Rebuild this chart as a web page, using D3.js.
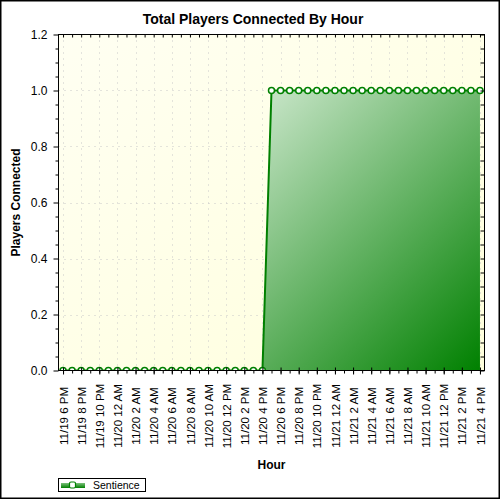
<!DOCTYPE html>
<html>
<head>
<meta charset="utf-8">
<script src="https://cdn.jsdelivr.net/npm/d3@7"></script>
<style>
  html, body { margin: 0; padding: 0; background: #fff; }
  svg { display: block; font-family: Arial, "Liberation Sans", sans-serif; }
</style>
</head>
<body>
<svg id="chart" width="500" height="500"></svg>
<script>
// ---- data ----
const hours = [
  "11/19 18:00","11/19 19:00","11/19 20:00","11/19 21:00","11/19 22:00","11/19 23:00",
  "11/20 00:00","11/20 01:00","11/20 02:00","11/20 03:00","11/20 04:00","11/20 05:00",
  "11/20 06:00","11/20 07:00","11/20 08:00","11/20 09:00","11/20 10:00","11/20 11:00",
  "11/20 12:00","11/20 13:00","11/20 14:00","11/20 15:00","11/20 16:00","11/20 17:00",
  "11/20 18:00","11/20 19:00","11/20 20:00","11/20 21:00","11/20 22:00","11/20 23:00",
  "11/21 00:00","11/21 01:00","11/21 02:00","11/21 03:00","11/21 04:00","11/21 05:00",
  "11/21 06:00","11/21 07:00","11/21 08:00","11/21 09:00","11/21 10:00","11/21 11:00",
  "11/21 12:00","11/21 13:00","11/21 14:00","11/21 15:00","11/21 16:00"
];
const sentience = [
  0,0,0,0,0,0,
  0,0,0,0,0,0,
  0,0,0,0,0,0,
  0,0,0,0,0,1,
  1,1,1,1,1,1,
  1,1,1,1,1,1,
  1,1,1,1,1,1,
  1,1,1,1,1
];
const tickTimes = [
  "11/19 18:00","11/19 20:00","11/19 22:00","11/20 00:00","11/20 02:00","11/20 04:00",
  "11/20 06:00","11/20 08:00","11/20 10:00","11/20 12:00","11/20 14:00","11/20 16:00",
  "11/20 18:00","11/20 20:00","11/20 22:00","11/21 00:00","11/21 02:00","11/21 04:00",
  "11/21 06:00","11/21 08:00","11/21 10:00","11/21 12:00","11/21 14:00","11/21 16:00"
];
const tickLabels = [
  "11/19 6 PM","11/19 8 PM","11/19 10 PM","11/20 12 AM","11/20 2 AM","11/20 4 AM",
  "11/20 6 AM","11/20 8 AM","11/20 10 AM","11/20 12 PM","11/20 2 PM","11/20 4 PM",
  "11/20 6 PM","11/20 8 PM","11/20 10 PM","11/21 12 AM","11/21 2 AM","11/21 4 AM",
  "11/21 6 AM","11/21 8 AM","11/21 10 AM","11/21 12 PM","11/21 2 PM","11/21 4 PM"
];
const yMajor = [0, 0.2, 0.4, 0.6, 0.8, 1.0, 1.2];
const yMinor = [0.05,0.1,0.15,0.25,0.3,0.35,0.45,0.5,0.55,0.65,0.7,0.75,0.85,0.9,0.95,1.05,1.1,1.15];
const yRight = [0,0.05,0.1,0.15,0.2,0.25,0.3,0.35,0.4,0.45,0.5,0.55,0.6,0.65,0.7,0.75,0.8,0.85,0.9,0.95,1.0,1.05,1.1,1.15,1.2];
const domainStart = "11/19 17:30", domainEnd = "11/21 16:30";
const seriesName = "Sentience";
const titleText = "Total Players Connected By Hour";
const xTitle = "Hour", yTitle = "Players Connected";

// ---- setup ----
const parse = d3.timeParse("%m/%d %H:%M");
const data = hours.map((h, i) => ({ t: parse(h), v: sentience[i] }));
const L = 58.5, R = 484.5, T = 34.5, B = 370.5;
const x = d3.scaleTime().domain([parse(domainStart), parse(domainEnd)]).range([L, R]);
const y = d3.scaleLinear().domain([0, 1.2]).range([B, T]);

const svg = d3.select("#chart");
const defs = svg.append("defs");

const bgGrad = defs.append("linearGradient").attr("id", "bg")
  .attr("x1", 0).attr("y1", 0).attr("x2", 1).attr("y2", 1);
bgGrad.append("stop").attr("offset", 0).attr("stop-color", "#fffff2");
bgGrad.append("stop").attr("offset", 1).attr("stop-color", "#ffffdc");

const onPts = data.filter(d => d.v > 0);
const gx0 = x(onPts[0].t), gy0 = y(1), gx1 = x(onPts[onPts.length - 1].t), gy1 = y(0);
const proj = (gx1 - gx0 + gy1 - gy0) / 2;
const fillGrad = defs.append("linearGradient").attr("id", "fillG")
  .attr("gradientUnits", "userSpaceOnUse")
  .attr("x1", gx0).attr("y1", gy0).attr("x2", gx0 + proj).attr("y2", gy0 + proj);
fillGrad.append("stop").attr("offset", 0).attr("stop-color", "#c6e4c6");
fillGrad.append("stop").attr("offset", 1).attr("stop-color", "#008000");

const legGrad = defs.append("linearGradient").attr("id", "legG")
  .attr("x1", 0).attr("y1", 0).attr("x2", 0).attr("y2", 1);
legGrad.append("stop").attr("offset", 0).attr("stop-color", "#7cc07c");
legGrad.append("stop").attr("offset", 1).attr("stop-color", "#008000");

defs.append("clipPath").attr("id", "plotClip").append("rect")
  .attr("x", L).attr("y", T).attr("width", R - L).attr("height", B - T);

// outer border
svg.append("rect").attr("x", 0.75).attr("y", 0.75).attr("width", 498.5).attr("height", 497.5)
  .attr("fill", "#fff").attr("stroke", "#000").attr("stroke-width", 1.5);

// plot background
svg.append("rect").attr("x", L).attr("y", T).attr("width", R - L).attr("height", B - T)
  .attr("fill", "url(#bg)");

// grid
const grid = svg.append("g").attr("stroke", "#c8c8c8").attr("stroke-width", 1)
  .attr("stroke-dasharray", "1,5");
grid.selectAll("line.gx").data(tickTimes).join("line")
  .attr("x1", d => Math.round(x(parse(d))) + 0.5).attr("x2", d => Math.round(x(parse(d))) + 0.5)
  .attr("y1", T).attr("y2", B);
grid.selectAll("line.gy").data(yMajor.slice(1, -1)).join("line")
  .attr("x1", L).attr("x2", R)
  .attr("y1", d => Math.round(y(d)) + 0.5).attr("y2", d => Math.round(y(d)) + 0.5);

// series
const plot = svg.append("g").attr("clip-path", "url(#plotClip)");
const area = d3.area().x(d => x(d.t)).y0(y(0)).y1(d => y(d.v));
plot.append("path").datum(data).attr("d", area).attr("fill", "url(#fillG)");
const line = d3.line().x(d => x(d.t)).y(d => y(d.v));
plot.append("path").datum(data).attr("d", line).attr("fill", "none")
  .attr("stroke", "#008000").attr("stroke-width", 2);
plot.selectAll("circle").data(data).join("circle")
  .attr("cx", d => x(d.t)).attr("cy", d => y(d.v)).attr("r", 3)
  .attr("fill", "#fff").attr("stroke", "#008000").attr("stroke-width", 1.5);

// frame
svg.append("rect").attr("x", L).attr("y", T).attr("width", R - L).attr("height", B - T)
  .attr("fill", "none").attr("stroke", "#000").attr("stroke-width", 1);

// left axis: major ticks with labels
const yAx = svg.append("g").attr("transform", `translate(${L},0)`)
  .call(d3.axisLeft(y).tickValues(yMajor).tickSize(5).tickPadding(6).tickFormat(d3.format(".1f")));
yAx.select(".domain").remove();
yAx.selectAll("text").attr("font-size", "12px").attr("fill", "#000")
  .attr("font-family", "Arial, 'Liberation Sans', sans-serif");
// left minor
const yAxMin = svg.append("g").attr("transform", `translate(${L},0)`)
  .call(d3.axisLeft(y).tickValues(yMinor).tickSize(3).tickFormat(""));
yAxMin.select(".domain").remove();
// right inner ticks
const yAxR = svg.append("g").attr("transform", `translate(${R},0)`)
  .call(d3.axisLeft(y).tickValues(yRight).tickSize(4).tickFormat(""));
yAxR.select(".domain").remove();

// top inner ticks (hourly)
const xTop = svg.append("g").attr("transform", `translate(0,${T})`)
  .call(d3.axisBottom(x).tickValues(hours.map(parse)).tickSize(3).tickFormat(""));
xTop.select(".domain").remove();

// bottom minor ticks (hourly)
const xMin = svg.append("g").attr("transform", `translate(0,${B})`)
  .call(d3.axisBottom(x).tickValues(hours.map(parse)).tickSize(3).tickFormat(""));
xMin.select(".domain").remove();

// bottom major ticks with labels
const labelMap = new Map(tickTimes.map((t, i) => [+parse(t), tickLabels[i]]));
const xAx = svg.append("g").attr("transform", `translate(0,${B})`)
  .call(d3.axisBottom(x).tickValues(tickTimes.map(parse)).tickSize(4)
    .tickFormat(d => labelMap.get(+d)));
xAx.select(".domain").remove();
xAx.selectAll(".tick line").attr("y1", -3).attr("y2", 4);
xAx.selectAll(".tick text")
  .attr("font-size", "11.5px").attr("fill", "#000")
  .attr("font-family", "Arial, 'Liberation Sans', sans-serif")
  .attr("text-anchor", "middle")
  .attr("y", 0).attr("dy", "0.36em")
  .attr("transform", "translate(0,45.5) rotate(-90)");

// titles
svg.append("text").attr("x", 253).attr("y", 24).attr("text-anchor", "middle")
  .attr("font-size", "14px").attr("font-weight", "bold").attr("fill", "#000").text(titleText);
svg.append("text").attr("x", (L + R) / 2).attr("y", 469).attr("text-anchor", "middle")
  .attr("font-size", "12px").attr("font-weight", "bold").attr("fill", "#000").text(xTitle);
svg.append("text").attr("transform", "translate(19.5,202.5) rotate(-90)").attr("text-anchor", "middle")
  .attr("font-size", "12px").attr("font-weight", "bold").attr("fill", "#000").text(yTitle);

// legend
const leg = svg.append("g");
leg.append("rect").attr("x", 58.5).attr("y", 478.5).attr("width", 87).attr("height", 13)
  .attr("fill", "#fff").attr("stroke", "#000").attr("stroke-width", 1);
leg.append("rect").attr("x", 61).attr("y", 483).attr("width", 24).attr("height", 5)
  .attr("fill", "url(#legG)");
leg.append("rect").attr("x", 69.5).attr("y", 482).attr("width", 6).attr("height", 6).attr("rx", 1.5)
  .attr("fill", "#fff").attr("stroke", "#008000").attr("stroke-width", 1.2);
leg.append("text").attr("x", 93).attr("y", 488.5).attr("font-size", "10.5px").attr("fill", "#000")
  .text(seriesName);
</script>
</body>
</html>
